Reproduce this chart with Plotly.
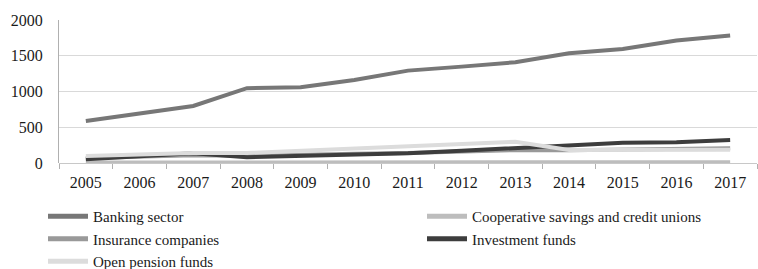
import plotly.graph_objects as go

years = [str(y) for y in range(2005, 2018)]
banking = [588, 686, 798, 1046, 1060, 1162, 1292, 1348, 1410, 1536, 1596, 1712, 1782]
cooperative = [6, 7, 8, 8, 9, 10, 10, 11, 11, 12, 12, 12, 12]
insurance = [70, 90, 110, 100, 120, 130, 140, 160, 180, 180, 190, 195, 205]
investment = [52, 95, 135, 80, 100, 126, 135, 172, 205, 238, 284, 290, 322]
pension = [98, 120, 140, 140, 170, 205, 238, 265, 298, 182, 180, 182, 185]

series = [
    ("Banking sector", banking, "#777777"),
    ("Cooperative savings and credit unions", cooperative, "#bdbdbd"),
    ("Insurance companies", insurance, "#999999"),
    ("Investment funds", investment, "#3d3d3d"),
    ("Open pension funds", pension, "#dcdcdc"),
]

fig = go.Figure()
for name, vals, col in series:
    fig.add_trace(go.Scatter(x=years, y=vals, name=name, mode="lines",
                             line=dict(color=col, width=4)))

font = dict(family="Liberation Serif, Times New Roman, serif", size=16, color="#1a1a1a")
lfont = dict(family="Liberation Serif, Times New Roman, serif", size=15, color="#1a1a1a")
fig.update_layout(
    width=758, height=269,
    margin=dict(l=59, r=1, t=20, b=106, autoexpand=False),
    paper_bgcolor="white", plot_bgcolor="white",
    font=font,
    showlegend=True,
    legend=dict(orientation="h", x=(43 - 59) / 698, y=(163 - 200) / 143,
                xanchor="left", yanchor="top",
                entrywidth=324, entrywidthmode="pixels", itemwidth=40,
                font=lfont, tracegroupgap=0, itemsizing="constant",
                bgcolor="rgba(0,0,0,0)"),
    xaxis=dict(type="category", range=[-0.5, 12.5], showgrid=False, automargin=False,
               ticks="outside", tickson="boundaries", ticklen=5, tickcolor="#b0b0b0",
               showline=False, tickfont=font, ticklabelstandoff=8),
    yaxis=dict(range=[0, 2000], dtick=500, showgrid=True, gridcolor="#d9d9d9", gridwidth=1,
               zeroline=True, zerolinecolor="#c8c8c8", zerolinewidth=1, automargin=False,
               showline=True, linecolor="#b0b0b0", linewidth=1,
               ticks="", tickfont=font, ticklabelstandoff=12),
)
fig.write_html("out.html", config={"displayModeBar": False},
               post_script="document.body.style.margin='0';")
